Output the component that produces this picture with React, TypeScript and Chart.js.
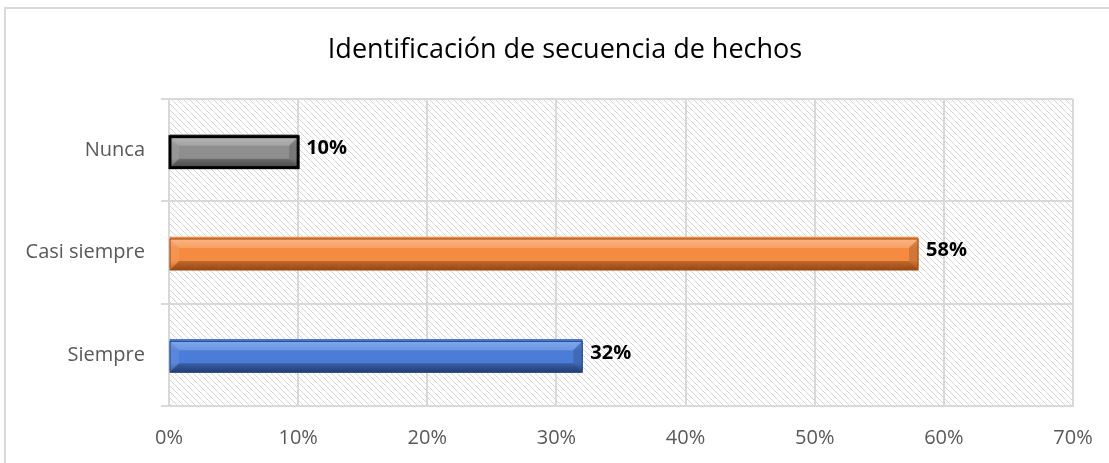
import React, { useEffect, useRef } from "react";
import { Chart, registerables } from "chart.js";

Chart.register(...registerables);

const chartTitle = "Identificación de secuencia de hechos";
const categories = ["Nunca", "Casi siempre", "Siempre"];
const values = [10, 58, 32];
const xTicks = [0, 10, 20, 30, 40, 50, 60, 70];

const barTop = ["#a8a8a8", "#fba468", "#6194ea"];
const barMid = ["#8e8e8e", "#f58b40", "#4b7dd8"];
const barBot = ["#5c5c5c", "#c45a16", "#2c4f94"];
const barEdge = ["#000000", "#9c4a12", "#23427e"];
const barEdgeWidth = [3, 1, 1];

const FONT = "'Open Sans', 'Noto Sans', sans-serif";

function makePattern(): CanvasPattern | string {
  const c = document.createElement("canvas");
  c.width = 6;
  c.height = 6;
  const g = c.getContext("2d");
  if (!g) return "#fff";
  g.fillStyle = "#ffffff";
  g.fillRect(0, 0, 6, 6);
  g.strokeStyle = "#d6d6d6";
  g.lineWidth = 1;
  g.beginPath();
  g.moveTo(-1, -1);
  g.lineTo(7, 7);
  g.moveTo(-4, 2);
  g.lineTo(2, 8);
  g.moveTo(2, -4);
  g.lineTo(8, 2);
  g.stroke();
  const p = g.createPattern(c, "repeat");
  return p || "#fff";
}

const framePlugin = {
  id: "frame",
  beforeDraw(chart: any) {
    const { ctx, chartArea } = chart;
    ctx.save();
    ctx.fillStyle = "#ffffff";
    ctx.fillRect(0, 0, chart.width, chart.height);
    ctx.strokeStyle = "#d9d9d9";
    ctx.lineWidth = 2;
    ctx.beginPath();
    ctx.moveTo(5, chart.height + 2);
    ctx.lineTo(5, 8);
    ctx.lineTo(chart.width + 2, 8);
    ctx.stroke();
    ctx.fillStyle = makePattern();
    ctx.fillRect(chartArea.left, chartArea.top, chartArea.right - chartArea.left, chartArea.bottom - chartArea.top);
    ctx.fillStyle = "#000000";
    ctx.font = "27px " + FONT;
    ctx.textAlign = "center";
    ctx.textBaseline = "alphabetic";
    ctx.fillText(chartTitle, 565, 58);
    ctx.restore();
  },
};

const bevelPlugin = {
  id: "bevel",
  afterDatasetsDraw(chart: any) {
    const { ctx } = chart;
    const meta = chart.getDatasetMeta(0);
    meta.data.forEach((bar: any, i: number) => {
      const x0 = Math.min(bar.base, bar.x);
      const x1 = Math.max(bar.base, bar.x);
      const y0 = bar.y - bar.height / 2 + 2;
      const y1 = bar.y + bar.height / 2 + 2;
      const h = y1 - y0;
      ctx.save();
      const grad = ctx.createLinearGradient(0, y0, 0, y1);
      grad.addColorStop(0, barTop[i]);
      grad.addColorStop(0.3, barMid[i]);
      grad.addColorStop(0.7, barMid[i]);
      grad.addColorStop(1, barBot[i]);
      ctx.fillStyle = grad;
      ctx.fillRect(x0, y0, x1 - x0, h);
      const b = Math.min(h * 0.3, 9);
      ctx.fillStyle = "rgba(255,255,255,0.18)";
      ctx.beginPath();
      ctx.moveTo(x0, y0);
      ctx.lineTo(x1, y0);
      ctx.lineTo(x1 - b, y0 + b);
      ctx.lineTo(x0 + b, y0 + b);
      ctx.closePath();
      ctx.fill();
      ctx.fillStyle = "rgba(0,0,0,0.22)";
      ctx.beginPath();
      ctx.moveTo(x0, y1);
      ctx.lineTo(x1, y1);
      ctx.lineTo(x1 - b, y1 - b);
      ctx.lineTo(x0 + b, y1 - b);
      ctx.closePath();
      ctx.fill();
      ctx.fillStyle = "rgba(255,255,255,0.08)";
      ctx.beginPath();
      ctx.moveTo(x0, y0);
      ctx.lineTo(x0 + b, y0 + b);
      ctx.lineTo(x0 + b, y1 - b);
      ctx.lineTo(x0, y1);
      ctx.closePath();
      ctx.fill();
      ctx.fillStyle = "rgba(0,0,0,0.15)";
      ctx.beginPath();
      ctx.moveTo(x1, y0);
      ctx.lineTo(x1 - b, y0 + b);
      ctx.lineTo(x1 - b, y1 - b);
      ctx.lineTo(x1, y1);
      ctx.closePath();
      ctx.fill();
      ctx.strokeStyle = barEdge[i];
      ctx.lineWidth = barEdgeWidth[i];
      ctx.strokeRect(x0, y0, x1 - x0, h);
      ctx.restore();

      ctx.save();
      ctx.font = "bold 20px " + FONT;
      ctx.fillStyle = "#000000";
      ctx.textAlign = "left";
      ctx.textBaseline = "middle";
      ctx.fillText(values[i] + "%", x1 + 8, bar.y - 2);
      ctx.restore();
    });
  },
};

export default function App() {
  const ref = useRef<HTMLCanvasElement | null>(null);
  useEffect(() => {
    if (!ref.current) return;
    const chart = new Chart(ref.current, {
      type: "bar",
      data: {
        labels: categories,
        datasets: [
          {
            data: values,
            backgroundColor: barMid,
            borderWidth: 0,
            barThickness: 31,
          },
        ],
      },
      options: {
        indexAxis: "y",
        responsive: false,
        animation: false,
        layout: { padding: { left: 0, right: 36, top: 99, bottom: 0 } },
        plugins: {
          legend: { display: false },
          tooltip: { enabled: false },
          title: { display: false },
        },
        scales: {
          x: {
            min: 0,
            max: 70,
            afterBuildTicks: (axis: any) => {
              axis.ticks = xTicks.map((v) => ({ value: v }));
            },
            afterFit: (axis: any) => {
              axis.height = 57;
              axis.paddingLeft = 0;
              axis.paddingRight = 0;
            },
            grid: { color: "#d9d9d9", lineWidth: 2, drawTicks: false },
            border: { color: "#d9d9d9", width: 2 },
            ticks: {
              color: "#595959",
              font: { family: FONT, size: 20 },
              padding: 20,
              callback: (v: any) => v + "%",
            },
          },
          y: {
            afterFit: (axis: any) => {
              axis.width = 169;
              axis.paddingTop = 0;
              axis.paddingBottom = 0;
            },
            grid: { color: "#d9d9d9", lineWidth: 2, offset: true, tickLength: 8 },
            border: { color: "#d9d9d9", width: 2 },
            ticks: {
              color: "#595959",
              font: { family: FONT, size: 20 },
              padding: 16,
            },
          },
        },
      },
      plugins: [framePlugin, bevelPlugin],
    } as any);
    return () => chart.destroy();
  }, []);
  return (
    <div style={{ position: "fixed", left: 0, top: 0, width: 1109, height: 463 }}>
      <canvas ref={ref} width={1109} height={463} style={{ display: "block" }} />
    </div>
  );
}
